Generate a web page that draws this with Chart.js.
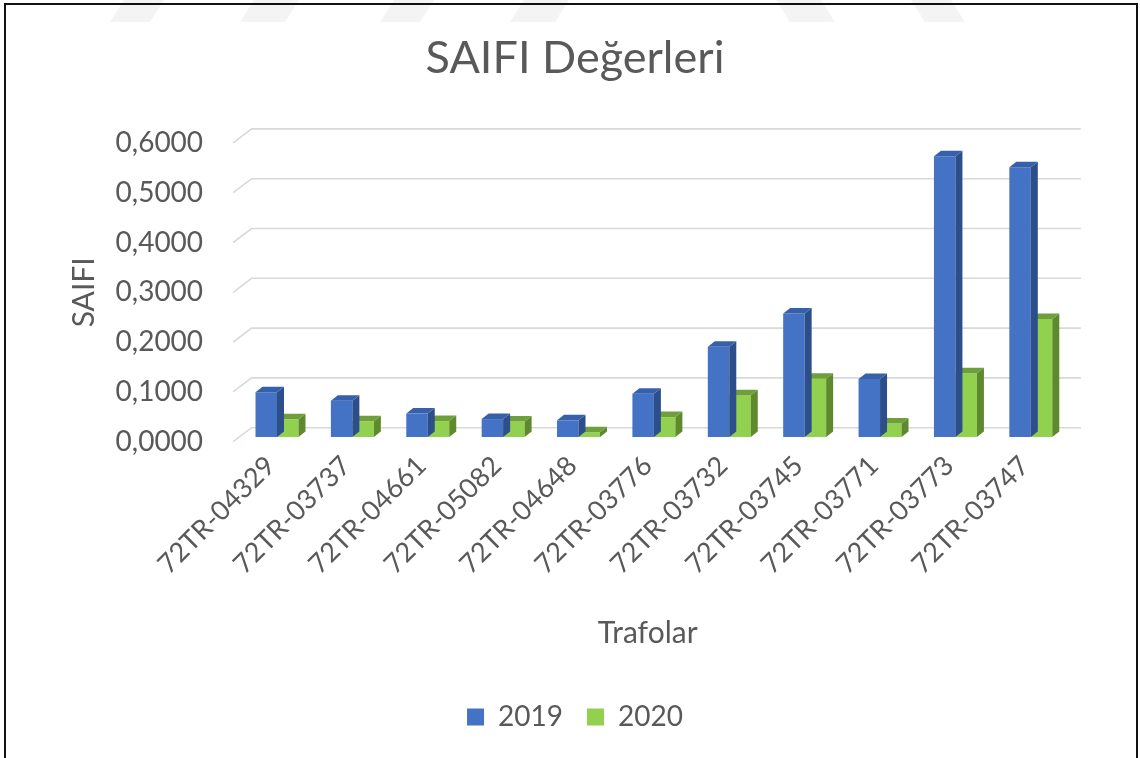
<!DOCTYPE html>
<html>
<head>
<meta charset="utf-8">
<script src="https://cdn.jsdelivr.net/npm/chart.js@4.4.1/dist/chart.umd.min.js"></script>
<style>
  html, body { margin: 0; padding: 0; background: #fff; overflow: hidden; }
  #wrap { position: relative; width: 1140px; height: 758px; }
  #frame { position: absolute; left: 4px; top: 3px; width: 1134px; height: 800px; border: 2px solid #111; box-sizing: border-box; pointer-events: none; }
</style>
</head>
<body>
<div id="wrap">
  <canvas id="c" width="1140" height="758"></canvas>
  <div id="frame"></div>
</div>
<script>
const categories = ['72TR-04329','72TR-03737','72TR-04661','72TR-05082','72TR-04648','72TR-03776','72TR-03732','72TR-03745','72TR-03771','72TR-03773','72TR-03747'];
const values2019 = [0.0900, 0.0730, 0.0470, 0.0360, 0.0335, 0.0870, 0.1810, 0.2480, 0.1165, 0.5640, 0.5415];
const values2020 = [0.0355, 0.0315, 0.0320, 0.0310, 0.0095, 0.0400, 0.0840, 0.1170, 0.0270, 0.1280, 0.2370];
const seriesNames = ['2019', '2020'];
const yTickLabels = ['0,0000','0,1000','0,2000','0,3000','0,4000','0,5000','0,6000'];

const FONT = 'Lato, "Open Sans", sans-serif';
const TXT = '#595959';
const WALL = {dx: 18.5, dy: -14};
const BARPLANE = {dx: 6.2, dy: -4.7};
const DEPTH = {dx: 7, dy: -5.5};
const faceColors = [
  {side: '#2c4f8c', top: '#3660a9'},
  {side: '#5e8a2d', top: '#6f9f3a'}
];

const watermarkPlugin = {
  id: 'watermark',
  beforeDraw(chart) {
    const ctx = chart.ctx;
    ctx.save();
    ctx.fillStyle = '#f4f4f4';
    const shapes = [[110,150,-1],[240,285,-1],[380,420,-1],[510,555,-1],[790,835,1],[925,965,1]];
    shapes.forEach(([a,b,dir]) => {
      const s = 14 * dir;
      ctx.beginPath();
      ctx.moveTo(a - s, 0); ctx.lineTo(b - s, 0);
      ctx.lineTo(b, 22); ctx.lineTo(a, 22);
      ctx.closePath(); ctx.fill();
    });
    ctx.restore();
  }
};

const wallPlugin = {
  id: 'wall3d',
  beforeDatasetsDraw(chart) {
    const ctx = chart.ctx, y = chart.scales.y, a = chart.chartArea;
    ctx.save();
    ctx.strokeStyle = '#d9d9d9';
    ctx.lineWidth = 1.6;
    y.ticks.forEach(t => {
      const py = y.getPixelForValue(t.value);
      ctx.beginPath();
      ctx.moveTo(a.left, py);
      ctx.lineTo(a.left + WALL.dx, py + WALL.dy);
      ctx.lineTo(a.right + WALL.dx, py + WALL.dy);
      ctx.stroke();
    });
    ctx.restore();
    ctx.save();
    ctx.translate(BARPLANE.dx, BARPLANE.dy);
  },
  afterDatasetDraw(chart, args) {
    const ctx = chart.ctx;
    const col = faceColors[args.index];
    args.meta.data.forEach(el => {
      const p = el.getProps(['x','y','base','width'], true);
      const l = p.x - p.width/2, r = p.x + p.width/2, t = p.y, b = p.base;
      ctx.fillStyle = col.side;
      ctx.beginPath();
      ctx.moveTo(r, t); ctx.lineTo(r + DEPTH.dx, t + DEPTH.dy);
      ctx.lineTo(r + DEPTH.dx, b + DEPTH.dy); ctx.lineTo(r, b);
      ctx.closePath(); ctx.fill();
      ctx.fillStyle = col.top;
      ctx.beginPath();
      ctx.moveTo(l, t); ctx.lineTo(l + DEPTH.dx, t + DEPTH.dy);
      ctx.lineTo(r + DEPTH.dx, t + DEPTH.dy); ctx.lineTo(r, t);
      ctx.closePath(); ctx.fill();
    });
  },
  afterDatasetsDraw(chart) {
    chart.ctx.restore();
  }
};

new Chart(document.getElementById('c'), {
  type: 'bar',
  data: {
    labels: categories,
    datasets: [
      {label: seriesNames[0], data: values2019, backgroundColor: '#4472C4', borderWidth: 0, categoryPercentage: 0.57, barPercentage: 1.0, clip: false},
      {label: seriesNames[1], data: values2020, backgroundColor: '#92D050', borderWidth: 0, categoryPercentage: 0.57, barPercentage: 1.0, clip: false}
    ]
  },
  options: {
    responsive: false,
    animation: false,
    layout: {padding: {top: 10, left: 87.7, right: 77.7, bottom: 17}},
    plugins: {
      title: {
        display: true, text: 'SAIFI Değerleri', color: TXT,
        font: {family: FONT, size: 45, weight: 'normal'},
        padding: {top: 21, bottom: 57.9}
      },
      legend: {
        position: 'bottom',
        labels: {color: TXT, font: {family: FONT, size: 28}, boxWidth: 17, boxHeight: 17, padding: 24}
      },
      tooltip: {enabled: false}
    },
    scales: {
      x: {
        grid: {display: false, drawTicks: false},
        border: {display: false},
        ticks: {color: TXT, font: {family: FONT, size: 27}, maxRotation: 45, minRotation: 45, autoSkip: false, padding: 8},
        title: {display: true, text: 'Trafolar', color: TXT, font: {family: FONT, size: 30}, padding: {top: 0, bottom: 28}},
        afterFit(s) { s.height = 237.3; }
      },
      y: {
        min: 0, max: 0.6,
        grid: {display: false, drawTicks: false},
        border: {display: false},
        ticks: {
          stepSize: 0.1, color: TXT, font: {family: FONT, size: 28}, padding: 30,
          callback: (v, i) => yTickLabels[i]
        },
        title: {display: true, text: 'SAIFI', color: TXT, font: {family: FONT, size: 30}, padding: {top: -21, bottom: 0}},
        afterFit(s) { s.width = 145.4; }
      }
    }
  },
  plugins: [watermarkPlugin, wallPlugin]
});
</script>
</body>
</html>
